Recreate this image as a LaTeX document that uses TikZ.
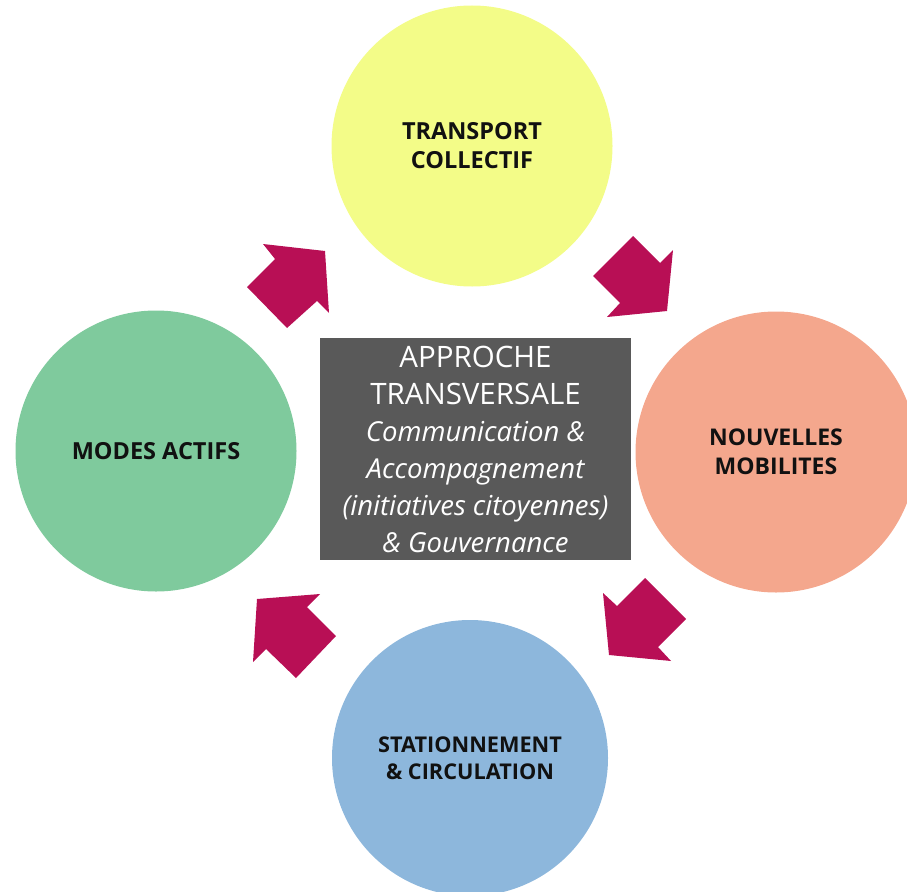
\documentclass[tikz,border=0pt]{standalone}
\usepackage{fontspec}
\setmainfont{Open Sans}
\definecolor{cyel}{HTML}{F3FC88}
\definecolor{csal}{HTML}{F4A78D}
\definecolor{cgrn}{HTML}{7FCA9D}
\definecolor{cblu}{HTML}{8DB7DC}
\definecolor{cmag}{HTML}{B80F55}
\definecolor{cgry}{HTML}{595959}
\definecolor{ctxt}{HTML}{111111}
\begin{document}
\begin{tikzpicture}[x=1pt,y=-1pt,
  circ/.style={circle, minimum size=281pt, inner sep=0pt, draw=none,
    font=\bfseries\fontsize{23.5}{29}\selectfont, align=center, text=ctxt},
  blk/.style={fill=cmag, draw=none},
  centrebox/.style={rectangle, fill=cgry, minimum width=311pt, minimum height=222pt,
    inner sep=0pt, text=white, align=center, font=\fontsize{29.5}{37}\selectfont}]
\useasboundingbox (0,0) rectangle (907,891);
\clip (0,0) rectangle (907,891);
\node[circ, fill=cyel] (tc) at (472,146) {TRANSPORT\\COLLECTIF};
\node[circ, fill=csal, font=\bfseries\fontsize{23}{29}\selectfont] (nm) at (776,452) {NOUVELLES\\MOBILITES};
\node[circ, fill=cgrn] (ma) at (156,451) {MODES ACTIFS};
\node[circ, fill=cblu, minimum size=276pt, font=\bfseries\fontsize{21.7}{27}\selectfont] (sc) at (470,758) {STATIONNEMENT\\\&~CIRCULATION};
\node[centrebox] (ap) at (475.5,449) {APPROCHE\\TRANSVERSALE\\
  {\itshape\fontsize{27.5}{37}\selectfont Communication \&}\\
  {\itshape\fontsize{27.5}{37}\selectfont Accompagnement}\\
  {\itshape\fontsize{27.5}{37}\selectfont (initiatives citoyennes)}\\
  {\itshape\fontsize{27.5}{37}\selectfont \& Gouvernance}};
% block arrows
\fill[blk] (263,244) -- (325,251) -- (329,313) -- (317,301) -- (287,328) -- (247,287) -- (275,259) -- cycle;
\fill[blk] (633,236) -- (660,263) -- (673,250) -- (667,311) -- (607,317) -- (620,303) -- (593,276) -- cycle;
\fill[blk] (645,578) -- (686,619) -- (658,647) -- (671,661) -- (609,655) -- (603,593) -- (617,606) -- cycle;
\fill[blk] (320,594) -- (257,599) -- (253,662) -- (266,649) -- (296,678) -- (336,636) -- (307,607) -- cycle;
\end{tikzpicture}
\end{document}
